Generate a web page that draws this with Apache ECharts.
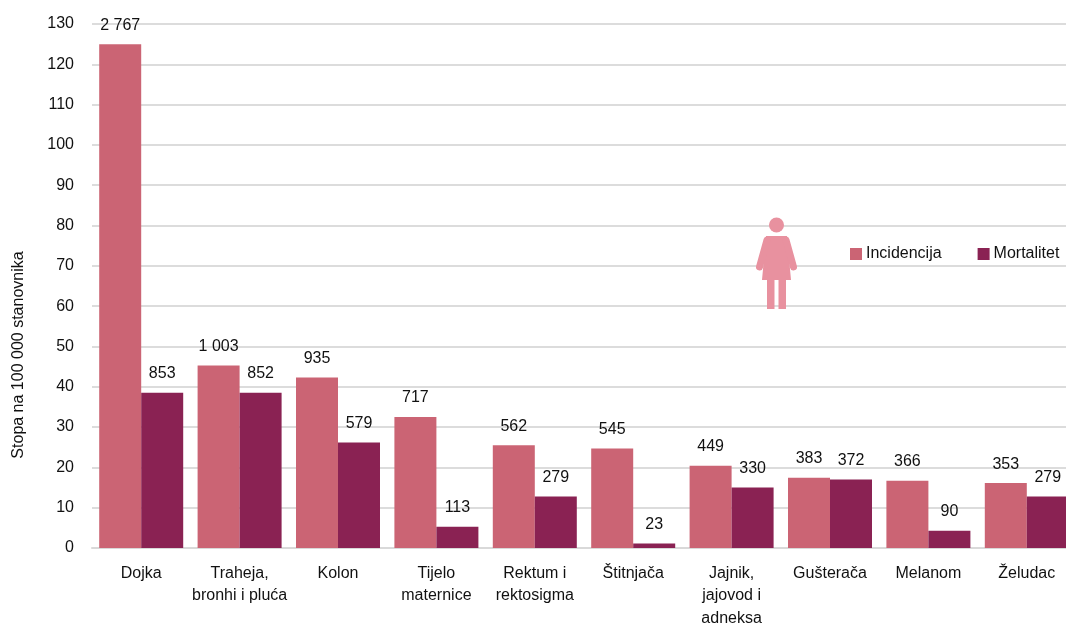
<!DOCTYPE html>
<html>
<head>
<meta charset="utf-8">
<style>
html, body { margin: 0; padding: 0; background: #fff; }
#main { width: 1066px; height: 625px; }
</style>
<script src="https://cdn.jsdelivr.net/npm/echarts@6/dist/echarts.min.js"></script>
</head>
<body>
<div id="main"></div>
<script>
// podaci
var categories = ['Dojka', 'Traheja,\nbronhi i pluća', 'Kolon', 'Tijelo\nmaternice', 'Rektum i\nrektosigma', 'Štitnjača', 'Jajnik,\njajovod i\nadneksa', 'Gušterača', 'Melanom', 'Želudac'];
var incidencija = [125, 45.3, 42.3, 32.5, 25.5, 24.7, 20.4, 17.4, 16.7, 16.1];
var mortalitet = [38.5, 38.5, 26.2, 5.3, 12.8, 1.1, 15.0, 17.0, 4.3, 12.8];
var incidencijaBroj = ['2 767', '1 003', '935', '717', '562', '545', '449', '383', '366', '353'];
var mortalitetBroj = ['853', '852', '579', '113', '279', '23', '330', '372', '90', '279'];

var fontName = '"Liberation Sans", sans-serif';
var figureColor = '#e8919f';

var chart = echarts.init(document.getElementById('main'));
var option = {
    animation: false,
    textStyle: { fontFamily: fontName },
    grid: { left: 92, top: 24, width: 984, height: 524, outerBoundsMode: 'none' },
    legend: {
        left: 850,
        top: 246,
        width: 216,
        padding: 0,
        itemWidth: 12,
        itemHeight: 12,
        itemGap: 36,
        icon: 'rect',
        textStyle: { fontFamily: fontName, fontSize: 16, color: '#111', padding: [0, 0, 0, -1] }
    },
    xAxis: {
        type: 'category',
        data: categories,
        axisTick: { show: false },
        axisLine: { lineStyle: { color: '#d9d9d9', width: 2 } },
        axisLabel: { interval: 0, margin: 14, fontFamily: fontName, fontSize: 16, color: '#111', lineHeight: 22.5 }
    },
    yAxis: {
        type: 'value',
        min: 0,
        max: 130,
        interval: 10,
        name: 'Stopa na 100 000 stanovnika',
        nameLocation: 'middle',
        nameGap: 65,
        nameTextStyle: { fontFamily: fontName, fontSize: 16, color: '#111', padding: [0, 138, 0, 0] },
        axisLine: { show: false },
        axisTick: { show: false },
        axisLabel: { margin: 18, fontFamily: fontName, fontSize: 16, color: '#111', padding: [5, 0, 0, 0] },
        splitLine: { lineStyle: { color: '#dcdcdc', width: 2 } }
    },
    series: [
        {
            name: 'Incidencija',
            type: 'bar',
            data: incidencija,
            barWidth: 42,
            barGap: 0,
            itemStyle: { color: '#cb6474' },
            label: {
                show: true,
                position: 'top',
                distance: 11,
                fontFamily: fontName,
                fontSize: 16,
                color: '#111',
                formatter: function (p) { return incidencijaBroj[p.dataIndex]; }
            }
        },
        {
            name: 'Mortalitet',
            type: 'bar',
            data: mortalitet,
            barWidth: 42,
            itemStyle: { color: '#8a2253' },
            label: {
                show: true,
                position: 'top',
                distance: 11,
                fontFamily: fontName,
                fontSize: 16,
                color: '#111',
                formatter: function (p) { return mortalitetBroj[p.dataIndex]; }
            }
        }
    ],
    // figura zene
    graphic: [
        { type: 'circle', z: 20, shape: { cx: 776.5, cy: 225, r: 7.5 }, style: { fill: figureColor } },
        { type: 'polygon', z: 20, shape: { points: [[766, 236], [787, 236], [791, 280], [762, 280]] }, style: { fill: figureColor } },
        { type: 'line', z: 20, shape: { x1: 767, y1: 240, x2: 759.5, y2: 267 }, style: { stroke: figureColor, lineWidth: 7, lineCap: 'round' } },
        { type: 'line', z: 20, shape: { x1: 786, y1: 240, x2: 793.5, y2: 267 }, style: { stroke: figureColor, lineWidth: 7, lineCap: 'round' } },
        { type: 'rect', z: 20, shape: { x: 767, y: 278, width: 7.5, height: 31 }, style: { fill: figureColor } },
        { type: 'rect', z: 20, shape: { x: 778.5, y: 278, width: 7.5, height: 31 }, style: { fill: figureColor } }
    ]
};
chart.setOption(option);
</script>
</body>
</html>
